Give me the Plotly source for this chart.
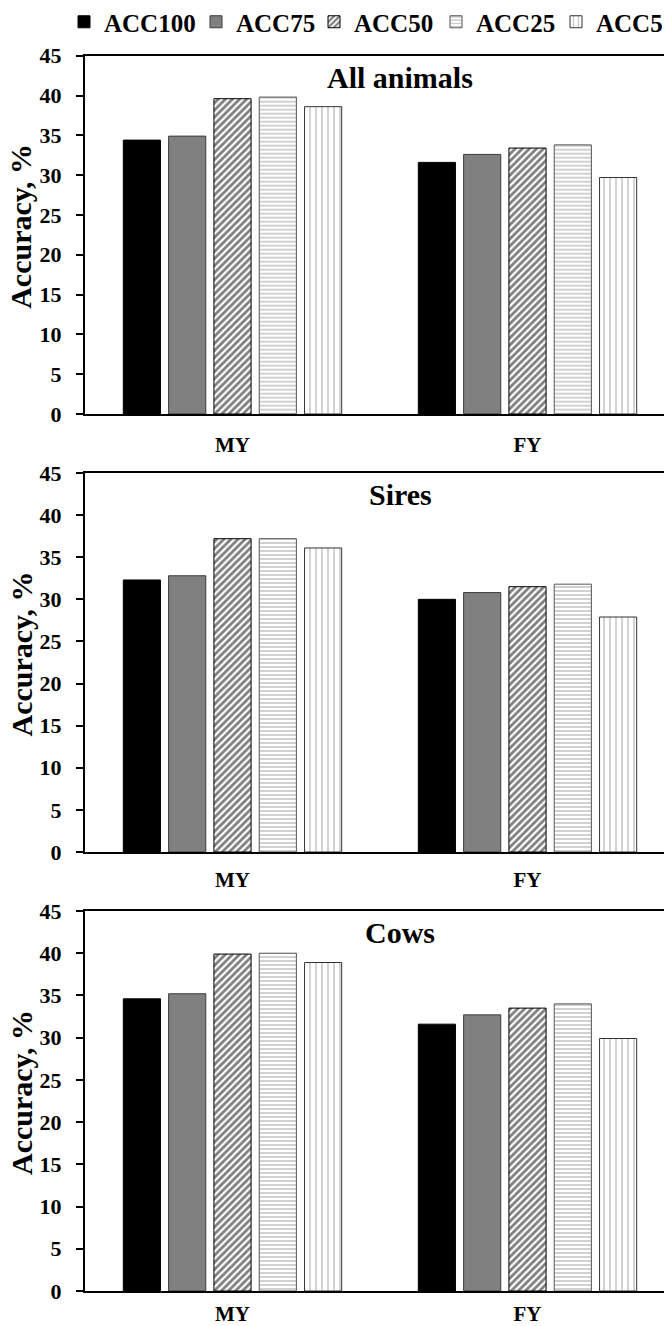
import plotly.graph_objects as go

categories = ["MY", "FY"]
series = ["ACC100", "ACC75", "ACC50", "ACC25", "ACC5"]
panels = ["All animals", "Sires", "Cows"]

all_animals = {
    "ACC100": [34.4, 31.6],
    "ACC75": [34.9, 32.6],
    "ACC50": [39.6, 33.4],
    "ACC25": [39.8, 33.8],
    "ACC5": [38.6, 29.7],
}
sires = {
    "ACC100": [32.3, 30.0],
    "ACC75": [32.8, 30.8],
    "ACC50": [37.2, 31.5],
    "ACC25": [37.2, 31.8],
    "ACC5": [36.1, 27.9],
}
cows = {
    "ACC100": [34.6, 31.6],
    "ACC75": [35.2, 32.7],
    "ACC50": [39.9, 33.5],
    "ACC25": [40.0, 34.0],
    "ACC5": [38.9, 29.9],
}
panel_data = [all_animals, sires, cows]
y_ticks = [0, 5, 10, 15, 20, 25, 30, 35, 40, 45]
y_title = "Accuracy, %"

# the page body adds an 8px margin, so the figure is drawn 8px smaller and
# every layout pixel position below is given in page pixels minus that margin
OFF = 8
W, H = 672 - OFF, 1326 - OFF
T = 44 - OFF
L = 85 - OFF
FONT = "Liberation Serif"

styles = {
    "ACC100": dict(color="black", line=dict(color="black", width=1)),
    "ACC75": dict(color="#808080", line=dict(color="#3a3a3a", width=1)),
    "ACC50": dict(color="white", line=dict(color="black", width=1),
                  pattern=dict(shape="/", fgcolor="black", bgcolor="white", size=5, solidity=0.55)),
    "ACC25": dict(color="white", line=dict(color="#555555", width=1),
                  pattern=dict(shape="-", fgcolor="#7a7a7a", bgcolor="white", size=4, solidity=0.35)),
    "ACC5": dict(color="white", line=dict(color="#333333", width=1),
                 pattern=dict(shape="|", fgcolor="#8a8a8a", bgcolor="white", size=6, solidity=0.25)),
}

# layout positions in page pixels
panel_px = [(55.7, 414), (473, 852), (911, 1291)]
x_standoff = [11, 8, 3]
legend_text_px = [104, 236, 354, 476, 596]
legend_center_y = 22
y_title_x = 21

P = H - T
PW = W - L


def fy(py):
    return (H - (py - OFF)) / P


def fx(px):
    return ((px - OFF) - L) / PW


fig = go.Figure()
xpos = list(range(len(categories)))
for i, data in enumerate(panel_data):
    xa = "x" if i == 0 else f"x{i+1}"
    ya = "y" if i == 0 else f"y{i+1}"
    for k, s in enumerate(series):
        fig.add_trace(go.Bar(
            x=xpos, y=data[s], name=s, marker=styles[s],
            xaxis=xa, yaxis=ya, legendgroup=s, showlegend=(i == 0),
            legend="legend" if k == 0 else f"legend{k+1}",
        ))

layout = dict(
    width=W, height=H,
    margin=dict(l=L, r=0, t=T, b=0, pad=0, autoexpand=False),
    paper_bgcolor="white", plot_bgcolor="white",
    barmode="group", bargap=0.232, bargroupgap=0.18,
    font=dict(family=FONT, color="black", weight="bold"),
    showlegend=True,
)
for k, tx in enumerate(legend_text_px):
    key = "legend" if k == 0 else f"legend{k+1}"
    layout[key] = dict(
        orientation="h", x=fx(tx - 40), xanchor="left",
        y=fy(legend_center_y), yanchor="middle",
        font=dict(family=FONT, size=25, color="black", weight="bold"),
        itemwidth=30, bgcolor="rgba(0,0,0,0)", borderwidth=0,
    )

annotations = []
for i, (top, bot) in enumerate(panel_px):
    suffix = "" if i == 0 else str(i + 1)
    layout[f"xaxis{suffix}"] = dict(
        domain=[0, 1], anchor=f"y{suffix}", automargin=False,
        tickmode="array", tickvals=xpos, ticktext=categories,
        range=[-0.5, 1.5 - 3 / 295],
        showline=True, linecolor="black", linewidth=2, mirror=True,
        ticks="", showgrid=False, zeroline=False,
        tickfont=dict(family=FONT, size=21, color="black", weight="bold"),
        ticklabelstandoff=x_standoff[i],
    )
    layout[f"yaxis{suffix}"] = dict(
        domain=[fy(bot), fy(top)], anchor=f"x{suffix}", automargin=False,
        range=[0, 45], tickmode="array", tickvals=y_ticks,
        showline=True, linecolor="black", linewidth=2, mirror=False,
        ticks="outside", ticklen=7, tickwidth=2, tickcolor="black",
        showgrid=False, zeroline=False,
        tickfont=dict(family=FONT, size=22, color="black", weight="bold"),
        ticklabelstandoff=10,
    )
    annotations.append(dict(
        text=panels[i], xref="paper", yref="paper",
        x=fx(400), y=fy(top + 22),
        xanchor="center", yanchor="middle", showarrow=False,
        font=dict(family=FONT, size=30, color="black", weight="bold"),
    ))
    annotations.append(dict(
        text=y_title, xref="paper", yref="paper", textangle=-90,
        x=fx(y_title_x), y=fy((top + bot) / 2 - 8),
        xanchor="center", yanchor="middle", showarrow=False,
        font=dict(family=FONT, size=30, color="black", weight="bold"),
    ))
layout["annotations"] = annotations
fig.update_layout(**layout)

fig.write_html("out.html")
